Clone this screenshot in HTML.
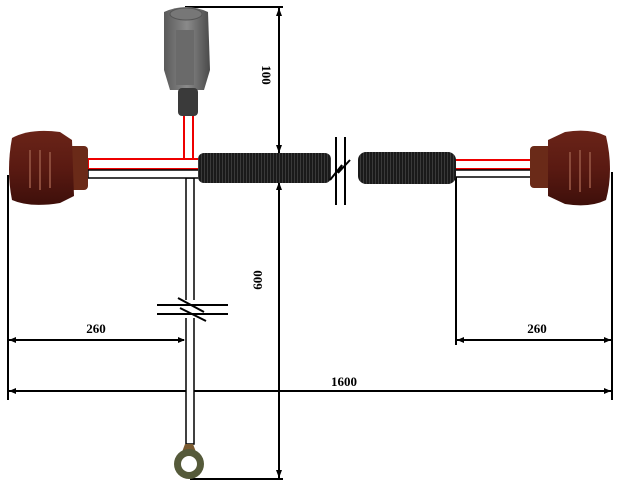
<!DOCTYPE html>
<html><head><meta charset="utf-8"><style>html,body{margin:0;padding:0;background:#fff}svg{display:block}</style></head>
<body>
<svg width="620" height="489" viewBox="0 0 620 489" xmlns="http://www.w3.org/2000/svg" font-family="Liberation Serif, serif" font-weight="bold">
<defs>
<pattern id="corr" width="3" height="10" patternUnits="userSpaceOnUse"><rect width="3" height="10" fill="#1a1a1a"/><rect width="1" height="10" fill="#3a3a3a"/></pattern>
<linearGradient id="br" x1="0" y1="0" x2="0" y2="1"><stop offset="0" stop-color="#6a2418"/><stop offset="0.5" stop-color="#5a1a12"/><stop offset="1" stop-color="#3e0f0a"/></linearGradient>
<linearGradient id="gr" x1="0" y1="0" x2="1" y2="0"><stop offset="0" stop-color="#5a5a5a"/><stop offset="0.5" stop-color="#8a8a8a"/><stop offset="1" stop-color="#4a4a4a"/></linearGradient>
</defs>
<g stroke="#000" stroke-width="2" fill="none">
<line x1="185" y1="7" x2="283" y2="7"/>
<line x1="279" y1="7" x2="279" y2="153"/>
<line x1="279" y1="182" x2="279" y2="479"/>
<line x1="190" y1="479" x2="283" y2="479"/>
<line x1="8" y1="175" x2="8" y2="400"/>
<line x1="612" y1="172" x2="612" y2="400"/>
<line x1="456" y1="175" x2="456" y2="345"/>
<line x1="8" y1="340" x2="184" y2="340"/>
<line x1="456" y1="340" x2="612" y2="340"/>
<line x1="8" y1="391" x2="612" y2="391"/>
</g>
<g fill="#000">
<polygon points="279,8 276,16 282,16"/><polygon points="279,153 276,145 282,145"/>
<polygon points="279,182 276,190 282,190"/><polygon points="279,478 276,470 282,470"/>
<polygon points="9,340 16,337 16,343"/><polygon points="185,340 178,337 178,343"/>
<polygon points="457,340 464,337 464,343"/><polygon points="611,340 604,337 604,343"/>
<polygon points="9,391 16,388 16,394"/><polygon points="611,391 604,388 604,394"/>
</g>
<g font-size="13" fill="#000">
<text x="96" y="333" text-anchor="middle">260</text>
<text x="537" y="333" text-anchor="middle">260</text>
<text x="344" y="386" text-anchor="middle">1600</text>
<text transform="translate(262,75) rotate(90)" text-anchor="middle">100</text>
<text transform="translate(262,280) rotate(-90)" text-anchor="middle">600</text>
</g>
<rect x="186" y="178" width="8" height="266" fill="#fff" stroke="#000" stroke-width="1.5"/>
<rect x="178" y="300" width="28" height="18" fill="#fff"/>
<g stroke="#000" stroke-width="2">
<line x1="157" y1="305" x2="228" y2="305"/><line x1="157" y1="314" x2="228" y2="314"/>
<line x1="178" y1="298" x2="204" y2="312"/><line x1="180" y1="308" x2="206" y2="321"/>
</g>
<path d="M185,444 L193,444 L196,452 L182,452Z" fill="#7a5a30"/>
<circle cx="189" cy="464" r="15" fill="#555a3a"/>
<circle cx="189" cy="464" r="8" fill="#fff"/>
<line x1="184" y1="115" x2="184" y2="160" stroke="#e00" stroke-width="2"/>
<line x1="193" y1="115" x2="193" y2="160" stroke="#e00" stroke-width="2"/>
<rect x="88" y="159" width="117" height="10" fill="#fff" stroke="#e00" stroke-width="2"/>
<rect x="88" y="170" width="117" height="8" fill="#fff" stroke="#000" stroke-width="1.5"/>
<rect x="455" y="160" width="80" height="9" fill="#fff" stroke="#e00" stroke-width="2"/>
<rect x="455" y="170" width="80" height="7" fill="#fff" stroke="#000" stroke-width="1.5"/>
<rect x="198" y="153" width="133" height="30" rx="6" fill="url(#corr)"/>
<rect x="358" y="152" width="98" height="32" rx="8" fill="url(#corr)"/>
<g stroke="#000" stroke-width="2" fill="none">
<line x1="336" y1="137" x2="336" y2="205"/><line x1="345" y1="137" x2="345" y2="205"/>
<polyline points="330,180 342,165 338,173 350,160"/>
</g>
<rect x="66" y="146" width="22" height="44" rx="4" fill="#6a2a18"/>
<path d="M12,138 Q30,128 60,132 L72,140 L74,196 L60,203 Q30,208 12,200 Q6,170 12,138Z" fill="url(#br)"/>
<g stroke="#8a4a3a" stroke-width="2"><line x1="30" y1="150" x2="30" y2="188"/><line x1="40" y1="150" x2="40" y2="190"/><line x1="50" y1="152" x2="50" y2="188"/></g>
<rect x="530" y="146" width="24" height="42" rx="4" fill="#6a2a18"/>
<path d="M548,140 L565,132 Q590,128 606,136 Q614,170 606,200 Q590,208 565,204 L548,196Z" fill="url(#br)"/>
<g stroke="#8a4a3a" stroke-width="2"><line x1="570" y1="152" x2="570" y2="190"/><line x1="580" y1="150" x2="580" y2="192"/><line x1="590" y1="152" x2="590" y2="188"/></g>
<path d="M164,12 Q186,2 208,12 L210,70 L204,90 L170,90 L164,70Z" fill="url(#gr)"/>
<ellipse cx="186" cy="14" rx="16" ry="6" fill="#777" stroke="#555"/>
<rect x="176" y="30" width="18" height="55" fill="#6a6a6a"/>
<rect x="178" y="88" width="20" height="28" rx="4" fill="#3a3a3a"/>
</svg>
</body></html>
